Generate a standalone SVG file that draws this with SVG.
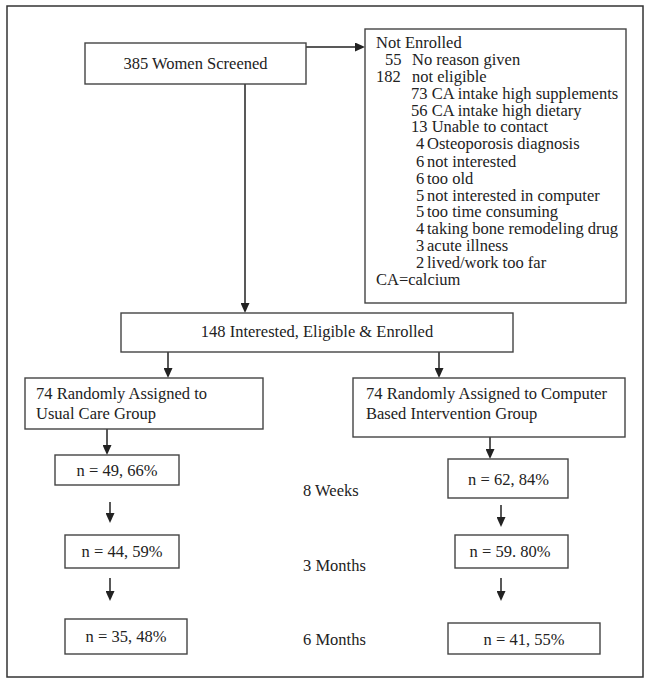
<svg xmlns="http://www.w3.org/2000/svg" width="651" height="684" viewBox="0 0 651 684">
<defs>
<style>
.box{fill:#fff;stroke:#444;stroke-width:1.4}
.frame{fill:#fff;stroke:#333;stroke-width:1.5}
.t{font-family:"Liberation Serif","Times New Roman",serif;font-size:16.5px;fill:#222}
.c{text-anchor:middle}
.conn{fill:none;stroke:#222;stroke-width:1.5}
</style>
<marker id="ah" viewBox="0 0 10 9" refX="0" refY="4.5" markerWidth="10" markerHeight="9" markerUnits="userSpaceOnUse" orient="auto">
<path d="M0,0 L10,4.5 L0,9 z" fill="#222"/>
</marker>
</defs>
<rect class="frame" x="7" y="6" width="636" height="671"/>
<g id="connectors">
<path class="conn" d="M306,47 H355" marker-end="url(#ah)"/>
<path class="conn" d="M245,84 V303" marker-end="url(#ah)"/>
<path class="conn" d="M168,352 V368" marker-end="url(#ah)"/>
<path class="conn" d="M439,352 V368" marker-end="url(#ah)"/>
<path class="conn" d="M107,429 V445" marker-end="url(#ah)"/>
<path class="conn" d="M490,437 V449" marker-end="url(#ah)"/>
<path class="conn" d="M110,502 V513" marker-end="url(#ah)"/>
<path class="conn" d="M110,578 V591" marker-end="url(#ah)"/>
<path class="conn" d="M501,505 V517" marker-end="url(#ah)"/>
<path class="conn" d="M501,578 V591" marker-end="url(#ah)"/>
</g>
<g id="screened">
<rect class="box" x="85" y="43" width="221" height="41"/>
<text class="t c" x="195.5" y="69">385 Women Screened</text>
</g>
<g id="not-enrolled">
<rect class="box" x="365" y="29" width="261" height="274"/>
<text class="t"><tspan x="376" y="48">Not Enrolled</tspan><tspan x="385" y="65">55</tspan><tspan x="412" y="65">No reason given</tspan><tspan x="376" y="82">182</tspan><tspan x="412" y="82">not eligible</tspan><tspan x="411" y="99">73 CA intake high supplements</tspan><tspan x="411" y="116">56 CA intake high dietary</tspan><tspan x="411" y="132">13 Unable to contact</tspan><tspan x="416" y="149">4</tspan><tspan x="427" y="149">Osteoporosis diagnosis</tspan><tspan x="416" y="166.5">6</tspan><tspan x="427" y="166.5">not interested</tspan><tspan x="416" y="183.5">6</tspan><tspan x="427" y="183.5">too old</tspan><tspan x="416" y="200.5">5</tspan><tspan x="427" y="200.5">not interested in computer</tspan><tspan x="416" y="217">5</tspan><tspan x="427" y="217">too time consuming</tspan><tspan x="416" y="234">4</tspan><tspan x="427" y="234">taking bone remodeling drug</tspan><tspan x="416" y="251">3</tspan><tspan x="427" y="251">acute illness</tspan><tspan x="416" y="268">2</tspan><tspan x="427" y="268">lived/work too far</tspan><tspan x="376" y="285">CA=calcium</tspan></text>
</g>
<g id="enrolled">
<rect class="box" x="121" y="313" width="392" height="39"/>
<text class="t c" x="317" y="337">148 Interested, Eligible &amp; Enrolled</text>
</g>
<g id="usual-care">
<rect class="box" x="25" y="378" width="238" height="51"/>
<text class="t"><tspan x="36" y="399">74 Randomly Assigned to</tspan><tspan x="36" y="418.5">Usual Care Group</tspan></text>
</g>
<g id="computer">
<rect class="box" x="353" y="378" width="272" height="59"/>
<text class="t"><tspan x="366" y="399">74 Randomly Assigned to Computer</tspan><tspan x="366" y="418.5">Based Intervention Group</tspan></text>
</g>
<g id="uc-8w">
<rect class="box" x="55" y="455" width="124" height="30"/>
<text class="t c" x="117" y="475.5">n = 49, 66%</text>
</g>
<g id="uc-3m">
<rect class="box" x="65" y="535" width="114" height="33"/>
<text class="t c" x="122" y="557">n = 44, 59%</text>
</g>
<g id="uc-6m">
<rect class="box" x="65" y="619" width="122" height="35"/>
<text class="t c" x="126" y="642">n = 35, 48%</text>
</g>
<g id="ci-8w">
<rect class="box" x="448" y="459" width="120" height="39"/>
<text class="t c" x="508.5" y="484.5">n = 62, 84%</text>
</g>
<g id="ci-3m">
<rect class="box" x="455" y="535" width="113" height="33"/>
<text class="t c" x="510" y="557">n = 59. 80%</text>
</g>
<g id="ci-6m">
<rect class="box" x="448" y="623" width="152" height="31"/>
<text class="t c" x="524" y="644.5">n = 41, 55%</text>
</g>
<g id="labels">
<text class="t" x="303" y="496">8 Weeks</text>
<text class="t" x="303" y="570.5">3 Months</text>
<text class="t" x="303" y="645">6 Months</text>
</g>
</svg>
